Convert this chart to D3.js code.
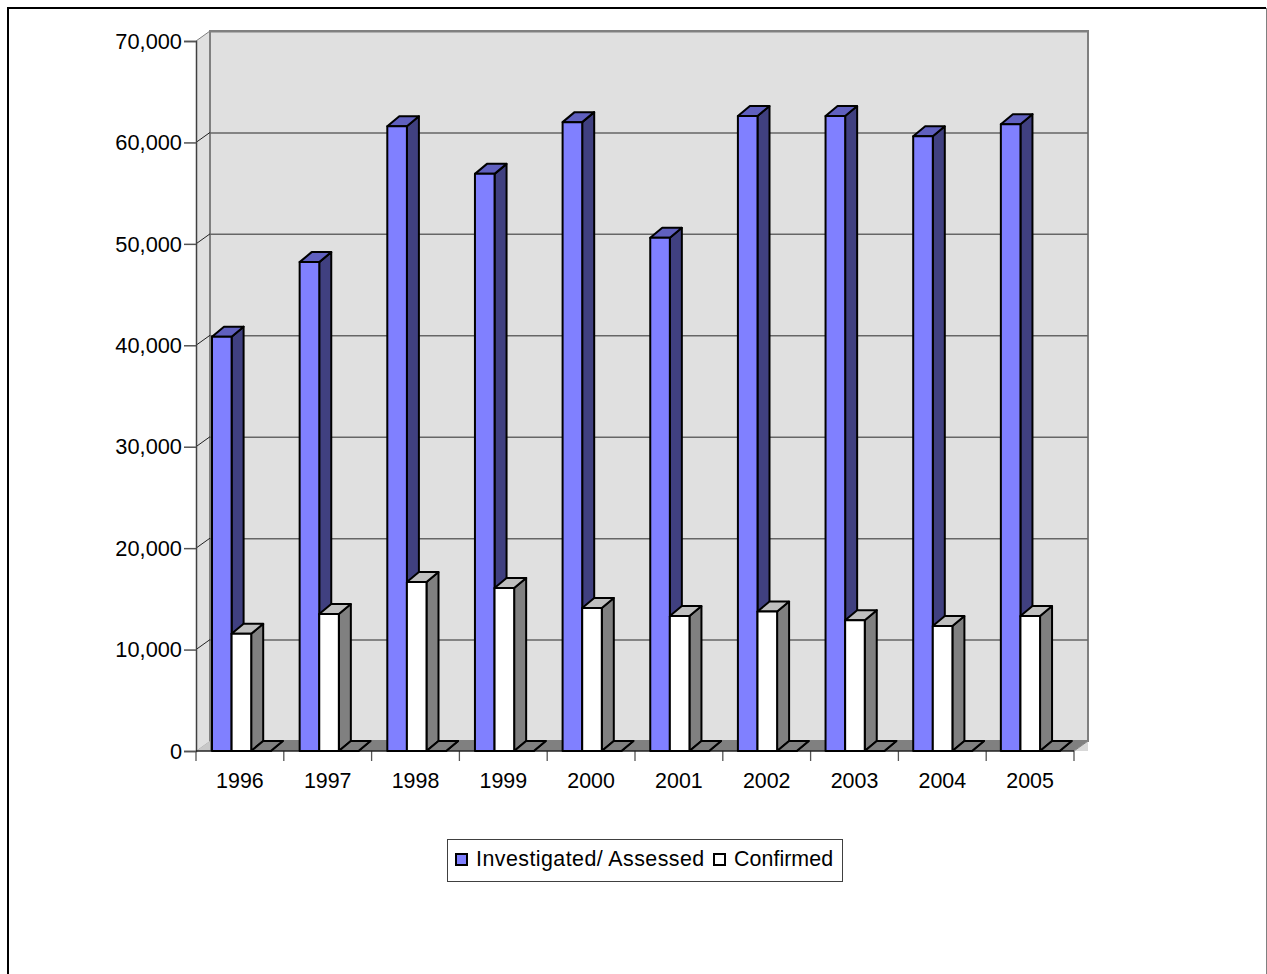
<!DOCTYPE html>
<html><head><meta charset="utf-8">
<script src="https://cdn.jsdelivr.net/npm/d3@7"></script>
<style>html,body{margin:0;padding:0;background:#fff;overflow:hidden}svg{display:block}text{font-family:"Liberation Sans",Arial,sans-serif;fill:#000}</style>
</head><body><svg id="c" width="1267" height="974"></svg>
<script>
const years=["1996","1997","1998","1999","2000","2001","2002","2003","2004","2005"];
const investigated=[40850,48200,61600,56900,62000,50600,62600,62600,60600,61800];
const confirmed=[11550,13500,16660,16070,14100,13300,13750,12900,12320,13300];
const baseline=[0,0,0,0,0,0,0,0,0,0];
const yTicks=[0,10000,20000,30000,40000,50000,60000,70000];
const legendLabels=["Investigated/ Assessed","Confirmed"];

const svg=d3.select("#c");
const x=d3.scaleBand().domain(years).range([196,1074]);
const xBar=d3.scaleBand().domain(years).range([212,1088.5]);
const y=d3.scaleLinear().domain([0,70000]).range([751,41]);
const wallDx=14,wallDy=-10,barDx=12,barDy=-10,barW=19.6;
const pts=a=>a.map(p=>p.join(",")).join(" ");

// frame
svg.append("path").attr("d","M8,974V8H1266").attr("fill","none").attr("stroke","#000").attr("stroke-width",2);
svg.append("line").attr("x1",1266.5).attr("x2",1266.5).attr("y1",8).attr("y2",974).attr("stroke","#808080");

// walls
const x0=x.range()[0],x1=x.range()[1],yb=y(0),yt=y(70000);
svg.append("polygon").attr("points",pts([[x0,yb],[x0,yt],[x0+wallDx,yt+wallDy],[x0+wallDx,yb+wallDy]])).attr("fill","#e0e0e0");
svg.append("rect").attr("x",x0+wallDx).attr("y",yt+wallDy).attr("width",x1-x0).attr("height",yb-yt).attr("fill","#e0e0e0").attr("stroke","#808080").attr("stroke-width",2);
svg.append("polygon").attr("points",pts([[x0,yb],[x0+wallDx,yb+wallDy],[x1+wallDx,yb+wallDy],[x1,yb]])).attr("fill","#808080");
svg.append("polygon").attr("points",pts([[x0,yb],[x0+wallDx,yb+wallDy],[x0+wallDx,yb]])).attr("fill","#c8c8c8");
svg.append("polygon").attr("points",pts([[x1,yb],[x1+wallDx,yb+wallDy],[x1+wallDx,yb]])).attr("fill","#d8d8d8");
svg.append("line").attr("x1",x1).attr("x2",x1+wallDx).attr("y1",yb).attr("y2",yb+wallDy).attr("stroke","#808080");

// grid
const grid=yTicks.filter(d=>d>0);
svg.selectAll(".g").data(grid).join("line").attr("x1",x0+wallDx).attr("x2",x1+wallDx)
  .attr("y1",d=>y(d)+wallDy+.5).attr("y2",d=>y(d)+wallDy+.5).attr("stroke",d=>d===70000?"#808080":"#666").attr("stroke-width",d=>d===70000?2:1.5);
svg.selectAll(".s").data(grid).join("line").attr("x1",x0).attr("x2",x0+wallDx)
  .attr("y1",d=>y(d)).attr("y2",d=>y(d)+wallDy).attr("stroke",d=>d===70000?"#808080":"#222").attr("stroke-width",1);

// axes
const ya=svg.append("g").attr("transform",`translate(${x0},0)`)
  .call(d3.axisLeft(y).tickValues(yTicks).tickFormat(d3.format(",")).tickSize(12).tickPadding(2));
ya.selectAll("text").attr("font-size",21.8).attr("dy","0.33em").style("font-family",'"Liberation Sans"');
ya.select(".domain").attr("stroke","#404040").attr("stroke-width",1.5);
ya.selectAll("line").attr("stroke","#555").attr("stroke-width",1.5);

const tickX=[...years.map(d=>x(d)),x1];
svg.selectAll(".tk").data(tickX).join("line").attr("x1",d=>d).attr("x2",d=>d).attr("y1",yb).attr("y2",yb+10).attr("stroke","#555").attr("stroke-width",1.3);
svg.append("line").attr("x1",x0).attr("x2",x1).attr("y1",yb).attr("y2",yb).attr("stroke","#222").attr("stroke-width",1.5);
svg.selectAll(".yl").data(years).join("text").attr("x",d=>x(d)+x.step()/2).attr("y",788).attr("text-anchor","middle").attr("font-size",21.4).text(d=>d);

// bars
function bar(g,xl,v,c){
  const t=y(v),xr=xl+barW;
  const o={stroke:"#000","stroke-width":2,"stroke-linejoin":"round"};
  const add=(p,f)=>{const e=g.append("polygon").attr("points",pts(p)).attr("fill",f);for(const k in o)e.attr(k,o[k]);};
  add([[xr,yb],[xr,t],[xr+barDx,t+barDy],[xr+barDx,yb+barDy]],c[2]);
  add([[xl,t],[xr,t],[xr+barDx,t+barDy],[xl+barDx,t+barDy]],c[1]);
  if(v>0) add([[xl,yb],[xl,t],[xr,t],[xr,yb]],c[0]);
}
const blue=["#8080ff","#6060bf","#404080"],white=["#ffffff","#bfbfbf","#808080"],stub=["#808080","#808080","#808080"];
years.forEach((yr,i)=>{
  const g=svg.append("g"),s=xBar(yr);
  bar(g,s,investigated[i],blue);
  bar(g,s+barW,confirmed[i],white);
  bar(g,s+barW*2,baseline[i],stub);
});

// legend
const lg=svg.append("g");
lg.append("rect").attr("x",447.5).attr("y",839.5).attr("width",395).attr("height",42).attr("fill","#fff").attr("stroke","#404040");
const lx=[456,714],tx=[476,734],ls=[0.45,0.05],cols=["#8080ff","#ffffff"];
legendLabels.forEach((l,i)=>{
  lg.append("rect").attr("x",lx[i]).attr("y",854).attr("width",11).attr("height",11).attr("fill",cols[i]).attr("stroke","#000").attr("stroke-width",2);
  lg.append("text").attr("x",tx[i]).attr("y",866).attr("font-size",21.4).attr("letter-spacing",ls[i]).text(l);
});
</script></body></html>
